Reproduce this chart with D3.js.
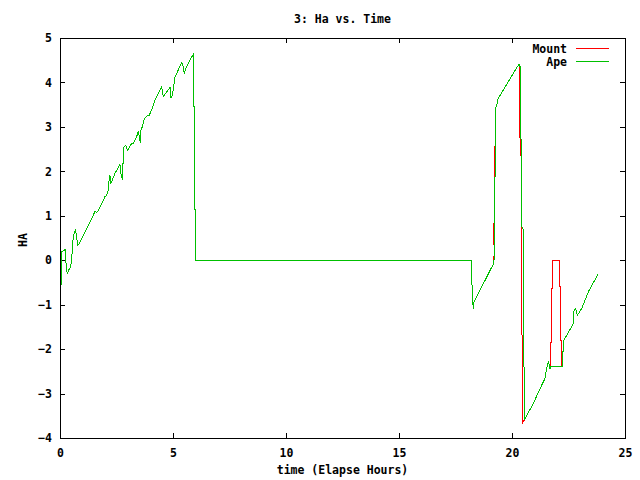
<!DOCTYPE html>
<html>
<head>
<meta charset="utf-8">
<script src="https://cdn.jsdelivr.net/npm/d3@7"></script>
<style>
  body { margin: 0; background: #fff; }
  svg text { font-family: "DejaVu Sans Mono", "Liberation Mono", monospace; font-weight: bold; font-size: 11.5px; fill: #000; }
  .frame, .tick line { stroke: #000; shape-rendering: crispEdges; }
  .series { fill: none; stroke-width: 1; shape-rendering: crispEdges; }
</style>
</head>
<body>
<svg id="chart" width="640" height="480"></svg>
<script>
// Chart data: [elapsed hours, HA]
// shared part of both series up to ~19.2 h
var startPart = [
  [0.02, -0.675], [0.04, -0.6], [0.07, -0.375], [0.07, 0.19], [0.18, 0.225], [0.24, 0.24],
  [0.27, -0.1], [0.32, -0.3], [0.36, -0.25], [0.46, -0.15], [0.52, 0], [0.55, 0.34],
  [0.6, 0.56], [0.66, 0.64], [0.69, 0.675], [0.74, 0.52], [0.78, 0.34], [0.83, 0.36],
  [1.33, 0.86], [1.55, 1.1], [1.62, 1.07], [1.7, 1.125], [1.99, 1.43], [2.06, 1.46],
  [2.14, 1.575], [2.18, 1.875], [2.21, 1.91], [2.24, 1.71], [2.43, 1.95], [2.51, 2.025],
  [2.65, 2.16], [2.7, 1.935], [2.76, 1.815], [2.77, 2.16], [2.83, 2.21], [2.83, 2.55],
  [2.91, 2.59], [2.99, 2.475], [3.17, 2.625], [3.24, 2.62], [3.39, 2.775], [3.47, 2.91],
  [3.55, 2.64], [3.58, 2.925], [3.64, 3.0], [3.73, 3.19], [3.83, 3.24], [3.95, 3.26],
  [4.06, 3.39], [4.2, 3.6], [4.5, 3.9], [4.57, 3.675], [4.79, 3.84], [4.87, 3.885],
  [4.91, 3.64], [4.97, 3.71], [5.06, 4.01], [5.09, 4.125], [5.38, 4.44], [5.43, 4.4],
  [5.5, 4.2], [5.56, 4.31], [5.68, 4.425], [5.83, 4.575], [5.9, 4.63], [5.9, 3.465],
  [5.94, 3.465], [5.94, 1.15], [5.99, 1.15], [5.99, 0], [18.19, 0], [18.22, -0.26],
  [18.24, -0.79], [18.29, -1.09], [18.32, -0.94], [19.2, -0.06]
];

// part where the two series differ
var apeMiddle = [
  [19.23, 0.45], [19.23, 1.85], [19.26, 1.9], [19.26, 2.65], [19.29, 2.7], [19.29, 3.45],
  [19.33, 3.5], [19.39, 3.64], [20.28, 4.39], [20.33, 4.4], [20.36, 4.35], [20.37, 2.74],
  [20.43, 2.7], [20.44, 0.75], [20.49, 0.7], [20.5, -2.14], [20.53, -2.2], [20.54, -3.6],
  [20.65, -3.49], [20.94, -3.23], [21.24, -2.89], [21.46, -2.66], [21.53, -2.44],
  [21.61, -2.27], [21.68, -2.44], [21.71, -2.4], [22.23, -2.4], [22.23, -2.06],
  [22.3, -2.06], [22.3, -1.8]
];

var mountMiddle = [
  [19.21, 0.3], [19.18, 0.56], [19.18, 0.81], [19.23, 0.85], [19.23, 1.8], [19.22, 1.85],
  [19.22, 2.52], [19.26, 2.6], [19.25, 2.7], [19.25, 3.42], [19.31, 3.45], [19.39, 3.64],
  [20.28, 4.39], [20.33, 4.4], [20.34, 3.825], [20.36, 2.36], [20.41, 2.36], [20.41, -1.67],
  [20.46, -1.7], [20.46, -3.66], [20.54, -3.6], [20.65, -3.49], [20.94, -3.23],
  [21.24, -2.89], [21.46, -2.66], [21.53, -2.44], [21.61, -2.27], [21.68, -2.44],
  [21.7, -2.4], [21.7, -1.84], [21.74, -1.84], [21.74, -0.64], [21.77, -0.64], [21.77, 0],
  [22.09, 0], [22.09, -0.6], [22.15, -0.6], [22.15, -1.8], [22.2, -1.8], [22.21, -2.4],
  [22.23, -2.4], [22.23, -2.06], [22.3, -2.06], [22.3, -1.8]
];

// shared tail
var endPart = [
  [22.71, -1.43], [22.72, -1.16], [22.82, -1.09], [22.89, -1.24], [23.08, -1.09],
  [23.38, -0.71], [23.82, -0.3]
];

var seriesNames = ["Mount", "Ape"];
var seriesColors = ["#ff0000", "#00c000"];
var xTicks = [0, 5, 10, 15, 20, 25];
var yTicks = [-4, -3, -2, -1, 0, 1, 2, 3, 4, 5];

var series = [
  startPart.concat(mountMiddle, endPart),
  startPart.concat(apeMiddle, endPart)
];

// chart area
var margin = { top: 38, right: 15, bottom: 42, left: 60 },
  width = 640 - margin.left - margin.right,
  height = 480 - margin.top - margin.bottom;

var svg = d3.select("#chart");
var g = svg.append("g").attr("transform", `translate(${margin.left},${margin.top})`);

var x = d3.scaleLinear().domain([0, 25]).range([0, width]);
var y = d3.scaleLinear().domain([-4, 5]).range([height, 0]);

// Axes with inward ticks on all four sides
g.append("g")
  .attr("transform", `translate(0,${height})`)
  .call(d3.axisBottom(x).tickValues(xTicks).tickSize(-5).tickPadding(11))
  .call(a => a.select(".domain").remove());
g.append("g")
  .call(d3.axisTop(x).tickValues(xTicks).tickSize(-5).tickFormat(""))
  .call(a => a.select(".domain").remove());
g.append("g")
  .call(d3.axisLeft(y).tickValues(yTicks).tickSize(-5).tickPadding(8))
  .call(a => a.select(".domain").remove());
g.append("g")
  .attr("transform", `translate(${width},0)`)
  .call(d3.axisRight(y).tickValues(yTicks).tickSize(-5).tickFormat(""))
  .call(a => a.select(".domain").remove());

g.selectAll(".tick text").style("font-size", "11.5px").style("font-family", null);

// Draw the series lines
var line = d3.line().x(d => x(d[0])).y(d => y(d[1]));
g.selectAll(".series")
  .data(series)
  .enter()
  .append("path")
  .attr("class", "series")
  .attr("stroke", (d, i) => seriesColors[i])
  .attr("d", line);

// Border
g.append("rect")
  .attr("class", "frame")
  .attr("width", width)
  .attr("height", height)
  .attr("fill", "none");

// Legend
var legend = g.selectAll(".legend")
  .data(seriesNames)
  .enter()
  .append("g")
  .attr("transform", (d, i) => `translate(0,${11 + i * 13})`);
legend.append("text")
  .attr("x", width - 58)
  .attr("y", 4)
  .attr("text-anchor", "end")
  .text(d => d);
legend.append("line")
  .attr("x1", width - 49)
  .attr("x2", width - 16)
  .attr("y1", -0.5)
  .attr("y2", -0.5)
  .attr("stroke", (d, i) => seriesColors[i]);

// Titles
svg.append("text")
  .attr("x", margin.left + width / 2)
  .attr("y", 23)
  .attr("text-anchor", "middle")
  .text("3: Ha vs. Time");
svg.append("text")
  .attr("x", margin.left + width / 2)
  .attr("y", 474)
  .attr("text-anchor", "middle")
  .text("time (Elapse Hours)");
svg.append("text")
  .attr("transform", "translate(27,240) rotate(-90)")
  .attr("text-anchor", "middle")
  .text("HA");
</script>
</body>
</html>
